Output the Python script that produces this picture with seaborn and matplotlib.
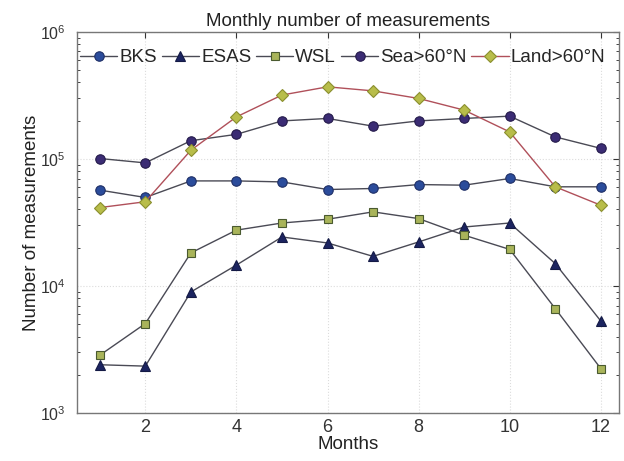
import numpy as np
import pandas as pd
import matplotlib
matplotlib.use("Agg")
import matplotlib.pyplot as plt
from matplotlib.ticker import LogLocator, NullFormatter
import seaborn as sns

months = list(range(1, 13))

bks = [56800, 49700, 67100, 67100, 65900, 57400, 58500, 62800, 62100, 70100, 60300, 60300]
esas = [2400, 2340, 8970, 14600, 24300, 21800, 17100, 22200, 29100, 31300, 15000, 5300]
wsl = [2850, 5060, 18200, 27500, 31300, 33500, 38300, 33900, 25100, 19400, 6640, 2240]
sea = [100700, 93000, 139000, 156000, 199000, 208000, 181000, 199000, 208000, 217000, 149000, 121000]
land = [41400, 46000, 117000, 214000, 318000, 369000, 343000, 299000, 242000, 163000, 60300, 43200]

series_names = ["BKS", "ESAS", "WSL", "Sea>60°N", "Land>60°N"]
series_values = [bks, esas, wsl, sea, land]

rows = []
for name, vals in zip(series_names, series_values):
    for m, v in zip(months, vals):
        rows.append({"Months": m, "Count": v, "Region": name})
df = pd.DataFrame(rows)

sns.set_theme(style="white")
plt.rcParams["font.family"] = ["Liberation Sans", "DejaVu Sans"]
plt.rcParams["mathtext.fontset"] = "custom"
plt.rcParams["mathtext.rm"] = "Liberation Sans"
plt.rcParams["mathtext.default"] = "regular"

styles = {
    "BKS":       dict(marker="o", mfc="#2b4c9b", mec="#1f2f66", color="#4a4a55", ms=6.8),
    "ESAS":      dict(marker="^", mfc="#1c2460", mec="#141a45", color="#4a4a55", ms=6.8),
    "WSL":       dict(marker="s", mfc="#a9b45a", mec="#4a5a30", color="#4a4a55", ms=5.2),
    "Sea>60°N":  dict(marker="o", mfc="#3b2c74", mec="#241a4a", color="#4a4a55", ms=6.8),
    "Land>60°N": dict(marker="D", mfc="#b8bd4a", mec="#8a8f2e", color="#b0505a", ms=6.2),
}

fig = plt.figure(figsize=(6.24, 4.61), dpi=100)
ax = fig.add_axes([0.1234, 0.104, 0.8686, 0.827])

for name in series_names:
    st = styles[name]
    sub = df[df["Region"] == name]
    sns.lineplot(data=sub, x="Months", y="Count", ax=ax, label=name,
                 color=st["color"], linewidth=1.0, marker=st["marker"],
                 markersize=st["ms"], markerfacecolor=st["mfc"],
                 markeredgecolor=st["mec"], markeredgewidth=0.8)

ax.set_yscale("log")
ax.set_ylim(1e3, 1e6)
ax.set_xlim(0.5, 12.4)
ax.set_xticks([2, 4, 6, 8, 10, 12])
ax.set_yticks([1e3, 1e4, 1e5, 1e6])
ax.yaxis.set_minor_locator(LogLocator(base=10, subs=np.arange(2, 10), numticks=20))
ax.yaxis.set_minor_formatter(NullFormatter())

ax.grid(True, which="major", color="#dcdcdc", linestyle=":", linewidth=0.8)
ax.tick_params(axis="both", which="major", direction="in", length=4, width=0.8,
               top=True, right=True, colors="#333333")
ax.tick_params(axis="x", which="major", labelsize=13, pad=4)
ax.tick_params(axis="y", which="major", labelsize=11.5, pad=8)
ax.tick_params(axis="y", which="minor", direction="in", length=2, width=0.6,
               left=True, right=True)
for side in ax.spines.values():
    side.set_color("#777777")
    side.set_linewidth(1.0)

ax.set_title("Monthly number of measurements", fontsize=13.5, pad=4, color="#222222")
ax.set_xlabel("Months", fontsize=13.5, labelpad=0, color="#222222")
ax.set_ylabel("Number of measurements", fontsize=13.5, labelpad=0, color="#222222")

leg = ax.legend(loc="center", bbox_to_anchor=(0.49, 0.932), ncol=5, frameon=False,
                fontsize=13.5, handlelength=2.0, handletextpad=0.1, columnspacing=0.25,
                borderaxespad=0.0, borderpad=0.0)

fig.savefig("out.png", dpi=100)
